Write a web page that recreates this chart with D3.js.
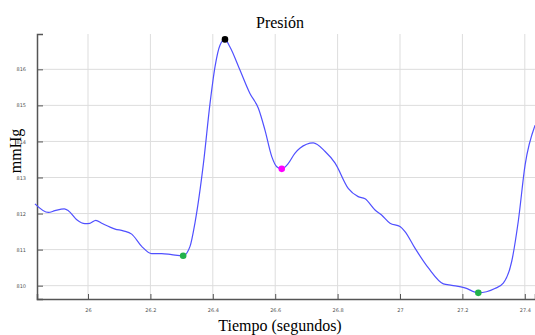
<!DOCTYPE html>
<html>
<head>
<meta charset="utf-8">
<script src="https://cdn.jsdelivr.net/npm/d3@7"></script>
<style>
  body { margin: 0; background: #fff; }
  .tick text { font-family: "DejaVu Sans", sans-serif; font-size: 5px; fill: #555; }
</style>
</head>
<body>
<div id="chart"></div>
<script>
// tiempo (s) y presion (mmHg)
var tiempo = [25.830, 25.873, 25.894, 25.924, 25.937, 25.964, 25.990, 26.006, 26.025, 26.044,
  26.087, 26.113, 26.140, 26.172, 26.204, 26.236, 26.268, 26.305, 26.327, 26.343,
  26.370, 26.391, 26.407, 26.423, 26.439, 26.455, 26.487, 26.519, 26.546, 26.567,
  26.589, 26.605, 26.621, 26.642, 26.663, 26.679, 26.722, 26.760, 26.792, 26.834,
  26.866, 26.888, 26.920, 26.941, 26.968, 27.000, 27.016, 27.048, 27.091, 27.139,
  27.166, 27.208, 27.251, 27.304, 27.331, 27.358, 27.379, 27.401, 27.433];
var presion = [812.27, 812.03, 812.08, 812.13, 812.08, 811.83, 811.72, 811.73, 811.81, 811.73,
  811.57, 811.52, 811.43, 811.09, 810.89, 810.89, 810.86, 810.83, 811.09, 811.75,
  813.39, 815.05, 816.07, 816.67, 816.83, 816.62, 815.98, 815.33, 814.92, 814.32,
  813.58, 813.30, 813.24, 813.39, 813.67, 813.81, 813.96, 813.72, 813.40, 812.70,
  812.47, 812.41, 812.10, 811.96, 811.73, 811.64, 811.50, 811.04, 810.49, 810.05,
  810.01, 809.94, 809.80, 809.92, 810.07, 810.67, 811.78, 813.35, 814.45];

// puntos marcados
var marcaT = [26.439, 26.621, 26.305, 27.251];
var marcaP = [816.83, 813.24, 810.83, 809.80];
var marcaColor = ["#000000", "#ff00ff", "#22b14c", "#22b14c"];

var xTicks = [26, 26.2, 26.4, 26.6, 26.8, 27, 27.2, 27.4];
var yTicks = [810, 811, 812, 813, 814, 815, 816];

var width = 535, height = 335;
var mLeft = 37, mRight = 535, mTop = 34, mBottom = 299;

var svg = d3.select("#chart").append("svg")
  .attr("width", width)
  .attr("height", height)
  .style("display", "block");

var x = d3.scaleLinear().domain([25.8365, 27.4327]).range([mLeft, mRight]);
var y = d3.scaleLinear().domain([809.63, 816.98]).range([mBottom, mTop]);

// rejilla
svg.append("g").selectAll("line").data(xTicks).enter().append("line")
  .attr("x1", function (d) { return x(d) }).attr("x2", function (d) { return x(d) })
  .attr("y1", mTop).attr("y2", mBottom)
  .attr("stroke", "#ddd").attr("stroke-width", 1);
svg.append("g").selectAll("line").data(yTicks).enter().append("line")
  .attr("x1", mLeft).attr("x2", mRight)
  .attr("y1", function (d) { return y(d) }).attr("y2", function (d) { return y(d) })
  .attr("stroke", "#ddd").attr("stroke-width", 1);

// ejes (ticks hacia dentro)
var xAxis = svg.append("g")
  .attr("transform", "translate(0," + mBottom + ")")
  .call(d3.axisBottom(x).tickValues(xTicks).tickSize(-5).tickPadding(9).tickFormat(d3.format("")));
var yAxis = svg.append("g")
  .attr("transform", "translate(" + mLeft + ",0)")
  .call(d3.axisLeft(y).tickValues(yTicks).tickSize(-6).tickPadding(11).tickFormat(d3.format("d")));
[xAxis, yAxis].forEach(function (a) {
  a.select(".domain").attr("stroke", "#555").attr("stroke-width", 1.5);
  a.selectAll(".tick line").attr("stroke", "#555");
});

// linea
var datos = tiempo.map(function (t, i) { return [t, presion[i]] });
var line = d3.line()
  .x(function (d) { return x(d[0]) })
  .y(function (d) { return y(d[1]) })
  .curve(d3.curveMonotoneX);

svg.append("path")
  .datum(datos)
  .attr("d", line)
  .attr("fill", "none")
  .attr("stroke", "#5050ff")
  .attr("stroke-width", 1.2);

// marcadores
svg.append("g").selectAll("circle").data(marcaT).enter().append("circle")
  .attr("cx", function (d) { return x(d) })
  .attr("cy", function (d, i) { return y(marcaP[i]) })
  .attr("r", 3.3)
  .attr("fill", function (d, i) { return marcaColor[i] });

// textos
svg.append("text")
  .attr("x", 280).attr("y", 28)
  .attr("text-anchor", "middle")
  .style("font-family", "'Liberation Serif', serif")
  .style("font-size", "16px")
  .text("Presión");

svg.append("text")
  .attr("x", 280).attr("y", 331)
  .attr("text-anchor", "middle")
  .style("font-family", "'Liberation Serif', serif")
  .style("font-size", "16px")
  .text("Tiempo (segundos)");

svg.append("text")
  .attr("transform", "translate(21,151) rotate(-90)")
  .attr("text-anchor", "middle")
  .style("font-family", "'Liberation Serif', serif")
  .style("font-size", "16px")
  .text("mmHg");
</script>
</body>
</html>
